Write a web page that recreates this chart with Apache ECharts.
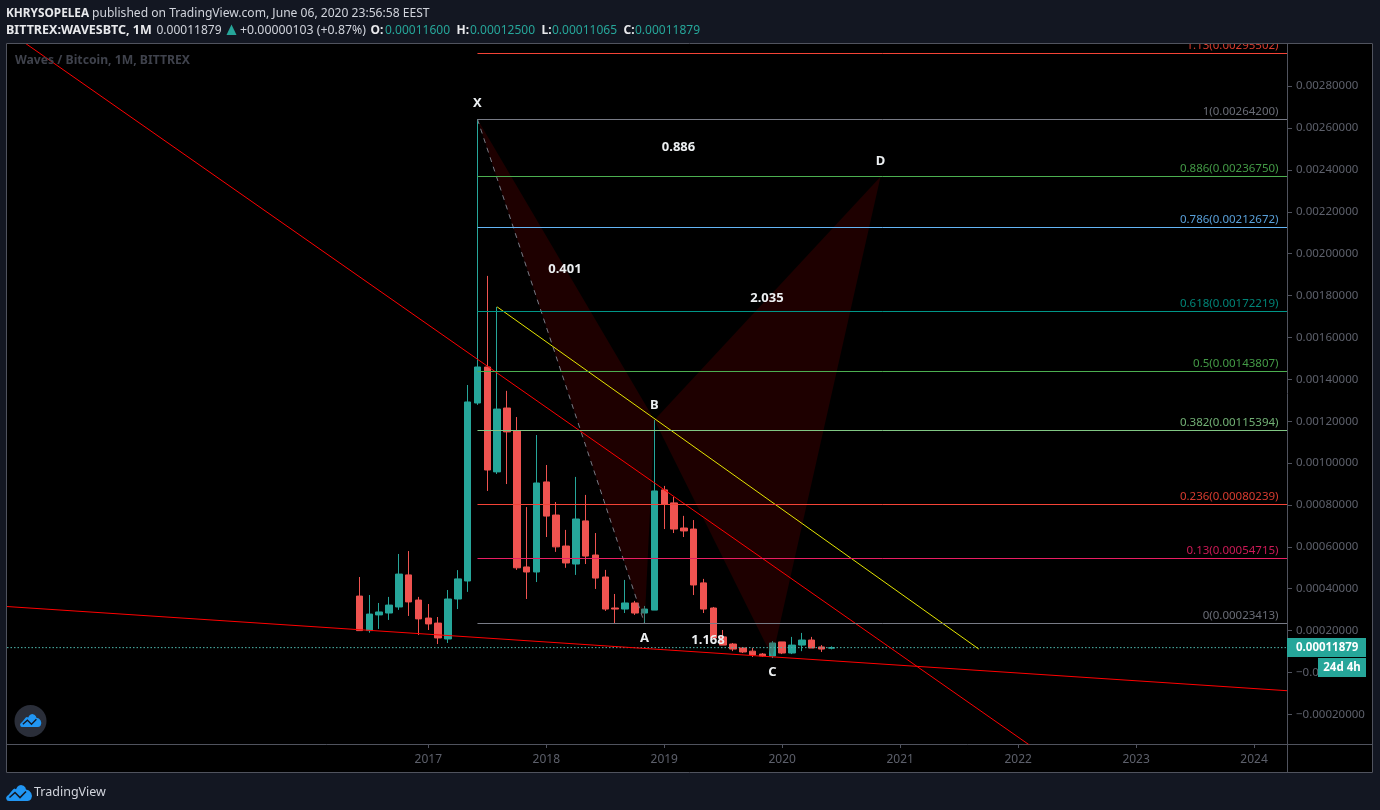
<!DOCTYPE html>
<html><head><meta charset="utf-8">
<style>html,body{margin:0;padding:0;background:#131722}#c{width:1380px;height:810px}</style>
<script src="https://cdn.jsdelivr.net/npm/echarts@6/dist/echarts.min.js"></script>
</head><body><div id="c"></div>
<script>
// ---- data (prices in units of 1e-5 BTC) ----
const months = ['2016-06','2016-07','2016-08','2016-09','2016-10','2016-11','2016-12',
 '2017-01','2017-02','2017-03','2017-04','2017-05','2017-06','2017-07','2017-08','2017-09','2017-10','2017-11','2017-12',
 '2018-01','2018-02','2018-03','2018-04','2018-05','2018-06','2018-07','2018-08','2018-09','2018-10','2018-11','2018-12',
 '2019-01','2019-02','2019-03','2019-04','2019-05','2019-06','2019-07','2019-08','2019-09','2019-10','2019-11','2019-12',
 '2020-01','2020-02','2020-03','2020-04','2020-05','2020-06'];
const opens = [36.5,20.0,27.5,28.4,31.3,46.6,34.6,
 26.0,23.6,16.0,35.1,43.7,128.7,145.9,95.8,126.3,115.3,50.4,48.0,
 91.0,75.2,60.4,51.8,72.4,56.1,45.6,30.8,30.3,33.2,28.4,29.8,
 87.2,81.0,69.0,68.5,42.8,30.8,17.0,13.6,11.7,10.2,8.8,7.9,
 14.6,9.3,13.1,15.5,12.2,11.6];
const highs = [45.6,37.0,33.2,36.1,56.6,58.0,36.1,
 32.7,26.5,39.4,48.9,137.3,264.2,189.4,174.6,134.5,122.0,79.0,113.4,
 99.1,81.4,68.1,93.4,84.8,66.6,49.0,37.5,44.2,34.2,31.8,120.6,
 89.1,83.8,74.8,72.8,44.7,31.3,20.3,14.1,12.2,11.7,9.3,15.0,
 14.6,17.0,18.9,17.0,13.1,12.5];
const lows = [20.0,19.0,20.8,25.1,29.9,27.0,17.9,
 20.3,13.6,14.1,30.3,38.5,127.8,86.7,94.8,90.0,49.0,35.1,43.2,
 64.7,57.6,50.0,46.6,51.8,39.9,29.4,23.6,28.4,27.5,23.413,29.8,
 68.5,66.6,64.7,37.0,28.4,15.8,13.1,10.2,9.3,7.4,7.4,6.9,
 8.8,8.8,10.2,11.7,9.8,11.065];
const closes = [20.0,27.9,28.9,32.2,47.0,33.7,25.6,
 23.2,16.5,35.1,44.7,129.2,145.9,96.7,125.8,114.9,50.0,48.0,90.5,
 74.7,60.0,52.3,73.3,55.6,45.1,30.3,30.3,33.2,28.4,30.3,86.7,
 80.3,68.5,67.6,41.8,30.3,16.5,13.1,11.2,9.8,8.4,7.9,14.1,
 9.3,13.1,15.5,11.7,11.2,11.879];
const fibRatios = ['1.13','1','0.886','0.786','0.618','0.5','0.382','0.236','0.13','0'];
const fibPrices = [0.00295502,0.00264200,0.00236750,0.00212672,0.00172219,0.00143807,0.00115394,0.00080239,0.00054715,0.00023413];
const fibStartMonth = 5;
const patternXAB = [[5,0.00264200],[22,0.00023413],[23,0.00120600]];
const patternBCD = [[23,0.00120600],[35,0.00007300],[46,0.00236750]];
const patternText = ['X','0.886','D','0.401','2.035','B','A','1.168','C'];
const patternTextX = [5,25.45,46,13.9,34.45,23,22,28.45,35];
const patternTextY = [0.00272,0.002510,0.002443,0.001927,0.001789,0.001277,0.000165,0.000155,0.000002];
const trendRed1 = [[-42,0.003038],[61.2,-0.000348]];
const trendRed2 = [[-42.86,0.000315],[87.35,-0.000087]];
const trendYellow = [[7,0.001746],[56,0.000112]];
const lastPrice = 0.00011879;
const countdown = '24d 4h';
const yearTicks = [0,12,24,36,48,60,72,84];
const yearLabels = ['2017','2018','2019','2020','2021','2022','2023','2024'];
const priceTicks = [0.0028,0.0026,0.0024,0.0022,0.0020,0.0018,0.0016,0.0014,0.0012,0.0010,0.0008,0.0006,0.0004,0.0002,0,-0.0002];

// ---- styles ----
const UP='#26a69a', DOWN='#ef5350', FONT='"Noto Sans",sans-serif';
const fibColors=['#f44336','#787b86','#4caf50','#64b5f6','#009688','#4caf50','#81c784','#f44336','#e91e63','#787b86'];
const monthIndex = s => { const [y,m]=s.split('-').map(Number); return (y-2017)*12+m-1; };
const candles = months.map((s,i)=>[monthIndex(s),opens[i]*1e-5,closes[i]*1e-5,lows[i]*1e-5,highs[i]*1e-5]);
const xMin=-42.86, xMax=87.35, yMin=-0.00034145, yMax=0.00300621;

const trend=(d,color,extra)=>Object.assign({type:'line',data:d,symbol:'none',silent:true,z:5,animation:false,
  lineStyle:{color,width:1}},extra||{});
const poly=(pts)=>({type:'custom',coordinateSystem:'cartesian2d',z:4,silent:true,animation:false,data:[0],
  encode:{x:[],y:[]},
  renderItem:(p,api)=>({type:'polygon',shape:{points:pts.map(c=>api.coord(c))},style:{fill:'rgba(128,0,0,0.23)'}})});

const chart = echarts.init(document.getElementById('c'),null,{renderer:'canvas'});
const txt=(x,y,text,color,weight,size,align)=>({type:'text',x,y,z:61,silent:true,style:{text,fill:color,
  font:`${weight||'normal'} ${size||12}px "Noto Sans",sans-serif`,textAlign:align||'left',textVerticalAlign:'middle'}});
const cloudOutline=[[3,16],[1,15.4],[0,13],[1,11],[2.4,10],[7,4.4],[8.4,3.6],[10,4.2],[11.4,1.8],[13,.5],[15,0],[17.6,.8],[19.4,2.6],[20,4.6],[23,5.4],[25.2,8],[26,11],[25.2,14],[23.6,15.4],[21.6,16]];
const cloud=(x,y,s,z)=>({type:'group',x,y,scaleX:s,scaleY:s,z,silent:true,children:[
  {type:'polygon',z,shape:{points:cloudOutline},style:{fill:'#2196f3'}},
  {type:'polyline',z:z+1,shape:{points:[[3.5,12.5],[9,7.5],[14,12.5],[20,6.5]]},style:{stroke:'#131722',lineWidth:1.6,fill:null}}]});

chart.setOption({
  animation:false,
  backgroundColor:'#131722',
  grid:{left:7,right:93,top:43,bottom:66,show:false},
  xAxis:{type:'value',min:xMin,max:xMax,splitLine:{show:false},
    axisLine:{show:true,onZero:false,lineStyle:{color:'#50535e'}},
    axisTick:{show:true,length:4,lineStyle:{color:'#50535e'},customValues:yearTicks},
    axisLabel:{color:'#5d606b',fontFamily:FONT,fontSize:12,margin:10,customValues:yearTicks,
      formatter:v=>yearLabels[yearTicks.indexOf(v)]}},
  yAxis:{type:'value',position:'right',min:yMin,max:yMax,scale:true,splitLine:{show:false},
    axisLine:{show:true,onZero:false,lineStyle:{color:'#50535e'}},
    axisTick:{show:true,length:5,lineStyle:{color:'#50535e'},customValues:priceTicks},
    axisLabel:{color:'#5d606b',fontFamily:FONT,fontSize:11.5,margin:9,padding:[2,0,0,0],customValues:priceTicks,
      formatter:v=>(v<=0?'\u2212':'')+Math.abs(v).toFixed(8)}},
  graphic:{elements:[
    {type:'rect',z:-1,silent:true,shape:{x:6,y:43,width:1367,height:730},style:{fill:'#000'}},
    {type:'rect',z:60,silent:true,shape:{x:0,y:0,width:1380,height:43},style:{fill:'#131722'}},
    {type:'rect',z:60,silent:true,shape:{x:6.5,y:43.5,width:1366,height:729},style:{fill:null,stroke:'#50535e',lineWidth:1}},
    {type:'line',z:60,silent:true,shape:{x1:1287,y1:744.5,x2:1373,y2:744.5},style:{stroke:'#50535e'}},
    {type:'line',z:60,silent:true,shape:{x1:1287.5,y1:744,x2:1287.5,y2:773},style:{stroke:'#50535e'}},
    txt(6,14,'KHRYSOPELEA','#e8e9ec','bold',11.8),
    txt(92,14,'published on TradingView.com, June 06, 2020 23:56:58 EEST','#d1d4dc','normal',12.1),
    txt(6,30.5,'BITTREX:WAVESBTC, 1M','#e8e9ec','bold',12.5),
    txt(156.5,30.5,'0.00011879','#d1d4dc'),
    {type:'polygon',z:61,silent:true,shape:{points:[[231.5,24.5],[236.5,35],[226.5,35]]},style:{fill:UP}},
    txt(240,30.5,'+0.00000103 (+0.87%)','#d1d4dc','normal',12.3),
    txt(370.5,30.5,'O:','#e8e9ec','bold'), txt(385,30.5,'0.00011600',UP),
    txt(456.5,30.5,'H:','#e8e9ec','bold'), txt(470,30.5,'0.00012500',UP),
    txt(541.5,30.5,'L:','#e8e9ec','bold'), txt(552,30.5,'0.00011065',UP),
    txt(623.5,30.5,'C:','#e8e9ec','bold'), txt(635,30.5,'0.00011879',UP),
    txt(15,61,'Waves / Bitcoin, 1M, BITTREX','#3f424c','bold',12.2),
    {type:'circle',z:61,silent:true,shape:{cx:30.5,cy:721,r:16},style:{fill:'#2a2e39'}},
    cloud(20,714,0.82,62),
    cloud(6,785,1,62),
    txt(34,792.5,'TradingView','#d1d4dc','normal',12.5)
  ]},
  series:[
    {type:'candlestick',data:candles,encode:{x:0,y:[1,2,3,4]},barWidth:7,z:3,silent:true,animation:false,
      itemStyle:{color:UP,color0:DOWN,borderColor:UP,borderColor0:DOWN,borderWidth:1}},
    poly(patternXAB), poly(patternBCD),
    trend([patternXAB[0],patternXAB[1]],'#787b86',{lineStyle:{color:'#787b86',width:1,type:[5,5]}}),
    trend(trendRed1,'#ff0000'), trend(trendRed2,'#ff0000'), trend(trendYellow,'#e6e600'),
    trend([[xMin,lastPrice],[xMax,lastPrice]],UP,{lineStyle:{color:'#4db6ac',width:1,type:[1.5,2]},z:4}),
    {type:'custom',coordinateSystem:'cartesian2d',z:6,silent:true,animation:false,clip:false,
      data:fibPrices.map((v,i)=>[i,v]),encode:{x:[],y:1},
      renderItem:(p,api)=>{
        const i=api.value(0), v=api.value(1);
        const a=api.coord([fibStartMonth,v]), b=api.coord([xMax,v]), c=fibColors[i];
        const y=Math.floor(a[1]+0.1)+0.5;
        return {type:'group',children:[
          {type:'line',shape:{x1:a[0],y1:y,x2:b[0],y2:y},style:{stroke:c,lineWidth:1}},
          {type:'text',x:b[0]-8.5,y:y-7.5,style:{text:fibRatios[i]+'('+v.toFixed(8)+')',fill:c,opacity:0.88,
            font:'11.5px "Noto Sans",sans-serif',textAlign:'right',textVerticalAlign:'middle'}}]};
      }},
    {type:'custom',coordinateSystem:'cartesian2d',z:7,silent:true,animation:false,
      data:patternText.map((t,i)=>[patternTextX[i],patternTextY[i]]),encode:{x:0,y:1},
      renderItem:(p,api)=>{
        const c=api.coord([api.value(0),api.value(1)]);
        return {type:'text',x:c[0],y:c[1],style:{text:patternText[p.dataIndex],fill:'#eceff1',
          font:'bold 13px "Noto Sans",sans-serif',textAlign:'center',textVerticalAlign:'middle'}};
      }},
    {type:'custom',coordinateSystem:'cartesian2d',z:20,silent:true,animation:false,clip:false,
      data:[[xMax,lastPrice]],encode:{x:0,y:1},
      renderItem:(p,api)=>{
        const c=api.coord([api.value(0),api.value(1)]);
        const y=Math.round(c[1]);
        return {type:'group',children:[
          {type:'rect',shape:{x:c[0],y:y-10,width:79,height:19},style:{fill:UP}},
          {type:'text',x:c[0]+9,y:y,style:{text:api.value(1).toFixed(8),fill:'#fff',font:'bold 11.5px "Noto Sans",sans-serif',textAlign:'left',textVerticalAlign:'middle'}},
          {type:'rect',shape:{x:c[0]+31,y:y+10,width:48,height:19},style:{fill:UP}},
          {type:'text',x:c[0]+55,y:y+20,style:{text:countdown,fill:'#fff',font:'bold 11.5px "Noto Sans",sans-serif',textAlign:'center',textVerticalAlign:'middle'}}]};
      }}
  ]
});
</script></body></html>
